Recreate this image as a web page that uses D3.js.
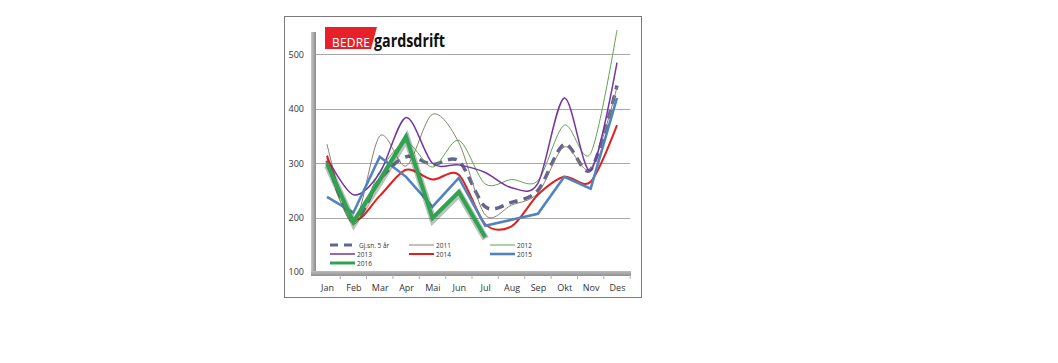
<!DOCTYPE html>
<html>
<head>
<meta charset="utf-8">
<script src="https://cdn.jsdelivr.net/npm/d3@7"></script>
<style>
  body { margin: 0; background: #fff; }
  text { font-family: "Open Sans", "Noto Sans", sans-serif; }
</style>
</head>
<body>
<div class="graph"></div>
<script>
var W = 1058, H = 363;

// data
var months = ["Jan", "Feb", "Mar", "Apr", "Mai", "Jun", "Jul", "Aug", "Sep", "Okt", "Nov", "Des"];
var yTicks = [100, 200, 300, 400, 500];
var avg5 = [305, 195, 270, 312, 298, 304, 220, 228, 250, 335, 288, 443];
var y2011 = [335, 190, 350, 295, 390, 338, 205, 223, 245, 330, 290, 440];
var y2012 = [300, 188, 285, 338, 293, 342, 262, 270, 268, 370, 318, 545];
var y2013 = [310, 242, 282, 384, 300, 297, 283, 255, 263, 420, 287, 485];
var y2014 = [314, 198, 240, 288, 270, 279, 188, 184, 242, 275, 266, 370];
var y2015 = [238, 209, 312, 275, 220, 273, 185, 196, 207, 275, 253, 420];
var y2016 = [299, 192, 269, 349, 199, 247, 164];

var series = [
  {name: "Gj.sn. 5 år", values: avg5, color: "#62668f", width: 3.5, dash: "9,6", smooth: true},
  {name: "2011", values: y2011, color: "#8a8070", width: 1, smooth: true},
  {name: "2012", values: y2012, color: "#5fa34f", width: 1, smooth: true},
  {name: "2013", values: y2013, color: "#7535a3", width: 1.5, smooth: true},
  {name: "2014", values: y2014, color: "#e0201c", width: 2, smooth: true},
  {name: "2015", values: y2015, color: "#5184bf", width: 2.6, smooth: false},
  {name: "2016", values: y2016, color: "#2fa350", width: 4, smooth: false, glow: true}
];

var svg = d3.select(".graph").append("svg")
  .attr("width", W).attr("height", H);

var defs = svg.append("defs");
var grad = defs.append("linearGradient").attr("id", "axisGrad").attr("x1", 0).attr("x2", 1);
grad.append("stop").attr("offset", 0).attr("stop-color", "#c8c8c8");
grad.append("stop").attr("offset", 1).attr("stop-color", "#8c8c8c");
var gradB = defs.append("linearGradient").attr("id", "axisGradB").attr("x1", 0).attr("x2", 0).attr("y1", 0).attr("y2", 1);
gradB.append("stop").attr("offset", 0).attr("stop-color", "#bcbcbc");
gradB.append("stop").attr("offset", 1).attr("stop-color", "#909090");

// outer frame
svg.append("rect")
  .attr("x", 284.5).attr("y", 16.5).attr("width", 357).attr("height", 281)
  .attr("fill", "#fff").attr("stroke", "#7a7a7a").attr("stroke-width", 1);

var x = d3.scalePoint().domain(months).range([327, 617]);
var y = d3.scaleLinear().domain([100, 545]).range([272, 30]);

// gridlines
svg.append("g").selectAll("line").data(yTicks.filter(function(d) { return d > 100; }))
  .enter().append("line")
  .attr("x1", 316).attr("x2", 630)
  .attr("y1", function(d) { return Math.round(y(d)) + 0.5; })
  .attr("y2", function(d) { return Math.round(y(d)) + 0.5; })
  .attr("stroke", "#a8a8a8").attr("stroke-width", 1);

// 3d-ish axis bars
svg.append("rect").attr("x", 311).attr("y", 32).attr("width", 5).attr("height", 242)
  .attr("fill", "url(#axisGrad)");
svg.append("rect").attr("x", 311).attr("y", 271).attr("width", 320).attr("height", 5)
  .attr("fill", "url(#axisGradB)");

// y axis labels
var yAxis = d3.axisLeft(y).tickValues(yTicks).tickSize(0).tickPadding(8);
var gy = svg.append("g").attr("transform", "translate(312,0)").call(yAxis);
gy.select(".domain").remove();
gy.selectAll("text").attr("font-size", 9).attr("fill", "#333");

// x axis labels and ticks
var step = x.step();
var xAxis = d3.axisBottom(x).tickSize(0).tickPadding(9);
var gx = svg.append("g").attr("transform", "translate(0,276)").call(xAxis);
gx.select(".domain").remove();
gx.selectAll("text").attr("font-size", 9).attr("fill", "#333");
svg.append("g").selectAll("line").data(months)
  .enter().append("line")
  .attr("x1", function(d) { return x(d) + step / 2; })
  .attr("x2", function(d) { return x(d) + step / 2; })
  .attr("y1", 275).attr("y2", 279)
  .attr("stroke", "#b0b0b0");

// lines
var smoothLine = d3.line()
  .x(function(d, i) { return x(months[i]); })
  .y(function(d) { return y(d); })
  .curve(d3.curveCardinal.tension(0.1));
var straightLine = d3.line()
  .x(function(d, i) { return x(months[i]); })
  .y(function(d) { return y(d); });

var lines = svg.append("g").attr("fill", "none");
series.forEach(function(s) {
  var gen = s.smooth ? smoothLine : straightLine;
  if (s.glow) {
    lines.append("path").attr("d", gen(s.values))
      .attr("stroke", "#3b5040").attr("stroke-opacity", 0.35)
      .attr("stroke-width", s.width + 3).attr("stroke-linejoin", "miter")
      .attr("transform", "translate(0.5,1.5)");
  }
  lines.append("path").attr("d", gen(s.values))
    .attr("stroke", s.color).attr("stroke-width", s.width)
    .attr("stroke-dasharray", s.dash || null)
    .attr("stroke-linejoin", "miter");
});

// legend
var legendPos = [
  [330, 245], [409, 245], [490, 245],
  [330, 254], [409, 254], [490, 254],
  [330, 263]
];
var lg = svg.append("g");
series.forEach(function(s, i) {
  var p = legendPos[i];
  var len = i === 0 ? 27 : 25;
  lg.append("line").attr("x1", p[0]).attr("x2", p[0] + len)
    .attr("y1", p[1]).attr("y2", p[1])
    .attr("stroke", s.color).attr("stroke-width", Math.min(s.width, 3))
    .attr("stroke-dasharray", s.dash ? "8,6" : null);
  lg.append("text").attr("x", p[0] + len + 2).attr("y", p[1] + 2.5)
    .attr("font-size", 6.5).attr("fill", "#333").text(s.name);
});

// logo
var logo = svg.append("g");
logo.append("path").attr("d", "M325,27 L377,27 L371,49 L325,49 Z").attr("fill", "#e8202a");
logo.append("text").attr("x", 332).attr("y", 47).attr("font-size", 12)
  .attr("font-family", "Liberation Sans Narrow, Liberation Sans, sans-serif")
  .attr("fill", "#fff").attr("textLength", 38).text("BEDRE");
logo.append("text").attr("x", 374).attr("y", 47).attr("font-size", 18)
  .attr("font-weight", "bold")
  .attr("font-family", "Liberation Sans Narrow, Liberation Sans, sans-serif")
  .attr("fill", "#111").attr("textLength", 71).attr("lengthAdjust", "spacingAndGlyphs")
  .text("gardsdrift");
</script>
</body>
</html>
